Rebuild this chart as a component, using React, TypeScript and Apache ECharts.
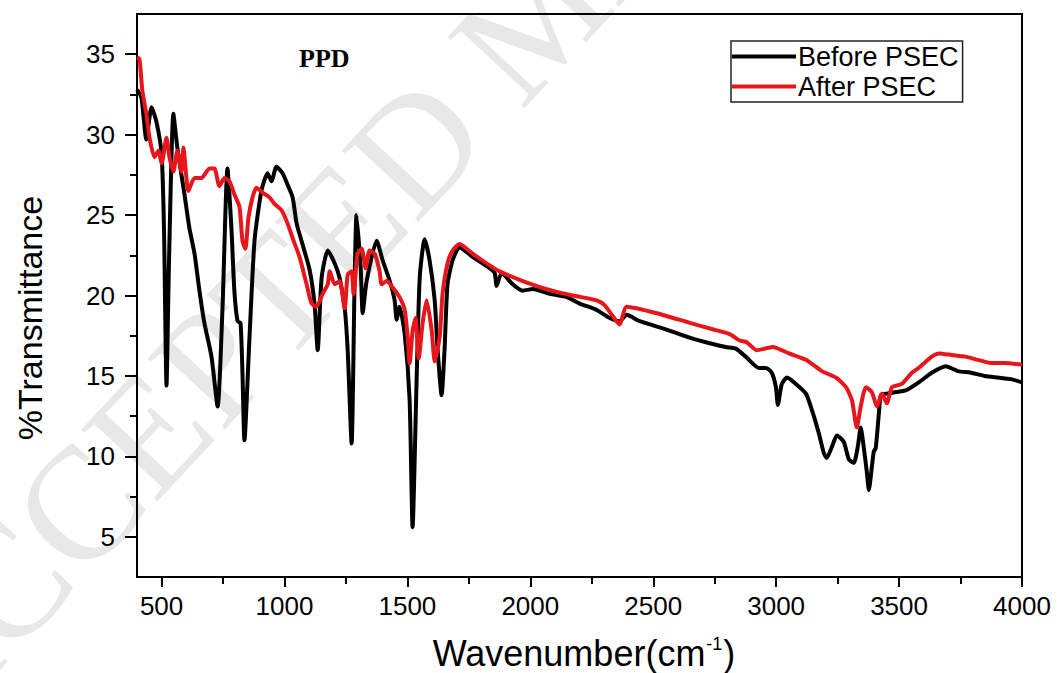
import React, { useEffect, useRef } from "react";
import * as echarts from "echarts";

// Wavenumber (cm-1) and %Transmittance
const beforeWn = [400, 418, 438, 459, 479, 500, 510, 520, 530, 548, 564, 593, 613, 634, 654, 674, 703, 728, 748, 768, 784, 796, 809, 821, 829, 837, 857, 878, 906, 931, 947, 967, 992, 1012, 1033, 1049, 1073, 1102, 1122, 1135, 1151, 1176, 1204, 1224, 1245, 1257, 1273, 1285, 1293, 1310, 1318, 1334, 1375, 1399, 1428, 1448, 1456, 1468, 1489, 1509, 1521, 1537, 1550, 1570, 1590, 1611, 1623, 1639, 1651, 1663, 1684, 1712, 1765, 1834, 1855, 1863, 1883, 1928, 1969, 2010, 2079, 2148, 2201, 2270, 2323, 2363, 2392, 2445, 2551, 2645, 2738, 2795, 2836, 2876, 2929, 2958, 2982, 2999, 3007, 3023, 3044, 3080, 3121, 3145, 3174, 3194, 3206, 3227, 3247, 3275, 3296, 3316, 3332, 3344, 3356, 3369, 3377, 3389, 3397, 3405, 3418, 3426, 3450, 3487, 3527, 3580, 3633, 3690, 3739, 3792, 3849, 3902, 3955, 4000];
const beforeT = [32.8, 32.3, 29.7, 31.7, 30.8, 28.8, 24.0, 14.4, 22.0, 31.3, 29.2, 26.3, 24.2, 22.6, 20.3, 18.3, 16.2, 13.1, 19.3, 27.9, 24.2, 20.3, 18.4, 18.3, 15.2, 11.0, 17.2, 23.4, 26.5, 27.6, 27.1, 28.0, 27.6, 26.9, 26.1, 24.5, 23.2, 21.6, 19.5, 16.6, 21.1, 22.8, 22.0, 21.1, 19.2, 16.6, 10.8, 20.7, 25.0, 21.7, 18.9, 20.9, 23.4, 22.2, 20.9, 19.7, 18.5, 19.3, 17.6, 13.5, 5.6, 14.5, 21.1, 23.5, 22.2, 19.7, 16.6, 13.8, 16.6, 20.7, 22.2, 23.0, 22.4, 21.7, 21.4, 20.6, 21.4, 20.7, 20.3, 20.4, 20.1, 19.9, 19.5, 19.1, 18.6, 18.4, 18.8, 18.4, 17.9, 17.4, 17.0, 16.8, 16.7, 16.2, 15.5, 15.5, 15.2, 14.3, 13.2, 14.5, 14.9, 14.5, 13.9, 12.9, 11.4, 10.2, 9.9, 10.6, 11.3, 10.9, 9.8, 9.6, 10.6, 11.8, 10.6, 9.0, 7.9, 9.3, 10.3, 10.5, 12.7, 13.8, 13.9, 14.0, 14.1, 14.6, 15.2, 15.6, 15.3, 15.2, 15.0, 14.9, 14.8, 14.6];

const afterWn = [400, 410, 422, 438, 451, 471, 487, 500, 520, 532, 548, 564, 581, 589, 609, 634, 662, 683, 695, 715, 735, 756, 776, 796, 817, 829, 841, 853, 870, 886, 910, 939, 959, 988, 1012, 1037, 1061, 1090, 1110, 1130, 1155, 1176, 1184, 1204, 1224, 1245, 1257, 1273, 1281, 1297, 1314, 1330, 1346, 1367, 1387, 1395, 1416, 1440, 1468, 1489, 1501, 1509, 1521, 1533, 1546, 1562, 1578, 1599, 1611, 1631, 1643, 1663, 1684, 1712, 1765, 1822, 1875, 1969, 2066, 2172, 2270, 2302, 2331, 2363, 2392, 2514, 2649, 2742, 2811, 2852, 2880, 2921, 2986, 3052, 3121, 3186, 3243, 3284, 3308, 3328, 3344, 3365, 3389, 3410, 3430, 3450, 3471, 3511, 3552, 3580, 3633, 3662, 3715, 3770, 3820, 3874, 3930, 4000];
const afterT = [34.8, 34.7, 32.7, 31.3, 29.8, 28.6, 29.0, 28.2, 29.8, 28.6, 27.7, 29.0, 27.7, 29.2, 26.5, 27.3, 27.3, 27.7, 27.9, 27.9, 26.8, 27.3, 27.1, 26.3, 25.5, 23.4, 22.9, 24.8, 26.1, 26.7, 26.4, 26.1, 25.7, 25.3, 24.5, 23.4, 22.4, 20.7, 19.5, 19.3, 20.1, 20.7, 21.5, 20.7, 20.9, 19.2, 21.3, 21.5, 20.1, 22.6, 22.9, 21.7, 22.8, 22.6, 21.5, 20.7, 20.9, 20.5, 19.9, 19.1, 17.4, 15.8, 17.8, 18.6, 16.1, 18.3, 19.7, 17.8, 15.9, 17.4, 20.1, 22.0, 22.8, 23.2, 22.6, 22.0, 21.5, 20.9, 20.4, 20.0, 19.7, 19.4, 18.8, 18.2, 19.3, 18.9, 18.3, 17.9, 17.6, 17.2, 17.1, 16.6, 16.8, 16.4, 16.0, 15.3, 14.9, 14.3, 13.5, 11.8, 13.1, 14.3, 14.0, 13.1, 13.9, 13.3, 14.3, 14.5, 15.2, 15.5, 16.2, 16.4, 16.3, 16.2, 16.0, 15.8, 15.8, 15.7];

const xMajorTicks = [500, 1000, 1500, 2000, 2500, 3000, 3500, 4000];
const xMinorTicks = [750, 1250, 1750, 2250, 2750, 3250, 3750];
const yMajorTicks = [5, 10, 15, 20, 25, 30, 35];
const yMinorTicks = [7.5, 12.5, 17.5, 22.5, 27.5, 32.5];

const seriesNames = ["Before PSEC", "After PSEC"];

export default function App() {
  const ref = useRef<HTMLDivElement>(null);
  useEffect(() => {
    document.body.style.margin = "0";
    const chart = echarts.init(ref.current!, null, { renderer: "svg" });
    const font = "Liberation Sans";
    const xBase = { type: "value", min: 400, max: 4000, gridIndex: 0, position: "bottom" };
    const yBase = { type: "value", min: 2.5, max: 37.5, gridIndex: 0, position: "left" };
    const fmt = (v: number) => String(v);
    chart.setOption({
      animation: false,
      backgroundColor: "#fff",
      grid: { left: 137, right: 38, top: 14, bottom: 96, show: true, borderColor: "#000", borderWidth: 2, backgroundColor: "transparent" },
      title: {
        text: "PPD",
        left: 294,
        top: 40,
        textStyle: { fontFamily: "Liberation Serif", fontWeight: "bold", fontSize: 26, color: "#000" },
      },
      legend: {
        orient: "vertical",
        left: 731,
        top: 41,
        data: seriesNames,
        icon: "rect",
        itemWidth: 64,
        itemHeight: 4,
        itemGap: 3,
        padding: [2, 4, 2, 1],
        borderColor: "#222",
        borderWidth: 1.5,
        textStyle: { fontFamily: font, fontSize: 27, color: "#000", padding: [0, 0, 0, -3] },
      },
      xAxis: [
        {
          ...xBase,
          axisLine: { show: true, lineStyle: { color: "#000", width: 2 } },
          axisTick: { show: true, customValues: xMajorTicks, length: 10, lineStyle: { color: "#000", width: 2 } },
          axisLabel: { show: true, customValues: xMajorTicks, formatter: fmt, margin: 16, fontFamily: font, fontSize: 26, color: "#000" },
          splitLine: { show: false },
        },
        {
          ...xBase,
          axisLine: { show: false },
          axisTick: { show: true, customValues: xMinorTicks, length: 7, lineStyle: { color: "#000", width: 2 } },
          axisLabel: { show: false },
          splitLine: { show: false },
        },
      ],
      yAxis: [
        {
          ...yBase,
          axisLine: { show: true, lineStyle: { color: "#000", width: 2 } },
          axisTick: { show: true, customValues: yMajorTicks, length: 12, lineStyle: { color: "#000", width: 2 } },
          axisLabel: { show: true, customValues: yMajorTicks, formatter: fmt, margin: 22, fontFamily: font, fontSize: 26, color: "#000" },
          splitLine: { show: false },
        },
        {
          ...yBase,
          axisLine: { show: false },
          axisTick: { show: true, customValues: yMinorTicks, length: 7, lineStyle: { color: "#000", width: 2 } },
          axisLabel: { show: false },
          splitLine: { show: false },
        },
      ],
      graphic: [
        {
          type: "text",
          x: -51,
          y: 763,
          rotation: 0.82,
          z: -10,
          silent: true,
          style: {
            text: "ACCEPTED MANUSCRIPT",
            fill: "#e8e8e8",
            font: "160px 'Liberation Serif'",
            align: "left",
            verticalAlign: "bottom",
          },
        },
        {
          type: "text",
          x: 30,
          y: 318,
          rotation: Math.PI / 2,
          z: 10,
          style: {
            text: "%Transmittance",
            fill: "#000",
            font: "34px 'Liberation Sans'",
            align: "center",
            verticalAlign: "middle",
          },
        },
        {
          type: "text",
          x: 584,
          y: 653,
          z: 10,
          style: {
            text: "Wavenumber(cm{sup|-1})",
            fill: "#000",
            font: "36px 'Liberation Sans'",
            align: "center",
            verticalAlign: "middle",
            rich: {
              sup: { fontSize: 18, fontFamily: "Liberation Sans", fill: "#000", verticalAlign: "top", padding: [0, 1, 14, 1] },
            },
          },
        },
      ],
      series: [
        {
          name: seriesNames[0],
          type: "line",
          data: beforeWn.map((w, i) => [w, beforeT[i]]),
          showSymbol: false,
          smooth: 0.2,
          color: "#000",
          lineStyle: { color: "#000", width: 4 },
          z: 3,
        },
        {
          name: seriesNames[1],
          type: "line",
          data: afterWn.map((w, i) => [w, afterT[i]]),
          showSymbol: false,
          smooth: 0.2,
          color: "#e8161b",
          lineStyle: { color: "#e8161b", width: 4 },
          z: 4,
        },
      ],
    });
    return () => chart.dispose();
  }, []);
  return <div ref={ref} style={{ width: 1060, height: 673, position: "absolute", left: 0, top: 0 }} />;
}
